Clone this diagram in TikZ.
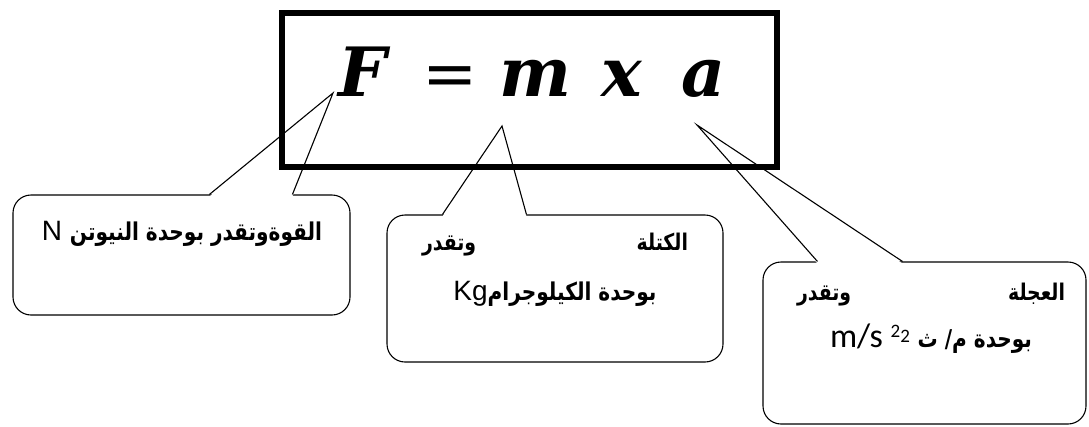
\documentclass[tikz,border=0pt]{standalone}
\usepackage{fontspec}
\setmainfont{Liberation Sans}
\newfontfamily\arabicfont[Script=Arabic, FakeStretch=0.82]{DejaVu Sans}
\newfontfamily\unitfont{Carlito}
\newfontfamily\lawfont{DejaVu Serif}
\TeXXeTstate=1
\usetikzlibrary{calc}
\tikzset{
  lawbox/.style  = {draw, line width=6pt, minimum width=495pt,
                    minimum height=154pt, inner sep=0pt},
  symbol/.style  = {font=\lawfont\bfseries\itshape\fontsize{68}{80}\selectfont,
                    anchor=base west, inner sep=0pt},
  callout/.style = {draw, line width=1.1pt, rounded corners=18pt,
                    fill=white, inner sep=0pt},
  pointer/.style = {line width=1.1pt, line join=miter},
  gap/.style     = {fill=white},
  note/.style    = {anchor=base, inner sep=0pt,
                    font=\fontsize{28}{32}\selectfont},
}
\newcommand{\artext}[1]{{\arabicfont\bfseries\fontsize{24.5}{30}\selectfont #1}}
\newcommand{\arsmall}[1]{{\arabicfont\bfseries\fontsize{23}{28}\selectfont\beginR #1\endR}}

\begin{document}
\begin{tikzpicture}[x=1pt, y=-1pt]
    \useasboundingbox (0,0) rectangle (1089,426);
    % callout boxes
    \node[callout, minimum width=337pt, minimum height=120pt] (forceBox) at (181.5,255) {};
    \node[callout, minimum width=336pt, minimum height=147pt] (massBox) at (555,288.5) {};
    \node[callout, minimum width=323pt, minimum height=162pt] (accelBox) at (924.5,343) {};
    \coordinate (forceL) at ($(forceBox.north west)+(197,0)$);
    \coordinate (forceR) at ($(forceBox.north west)+(280,0)$);
    \coordinate (massL) at ($(massBox.north west)+(56,0)$);
    \coordinate (massR) at ($(massBox.north west)+(140,0)$);
    \coordinate (accelL) at ($(accelBox.north west)+(55,0)$);
    \coordinate (accelR) at ($(accelBox.north west)+(140,0)$);
    \coordinate (forceTip) at (333,93);
    \coordinate (massTip) at (502,126);
    \coordinate (accelTip) at (697,125);
    \fill[gap] ($(forceL)+(0,2)$) -- (forceTip) -- ($(forceR)+(0,2)$) -- cycle;
    \fill[gap] ($(massL)+(0,2)$) -- (massTip) -- ($(massR)+(0,2)$) -- cycle;
    \fill[gap] ($(accelL)+(0,2)$) -- (accelTip) -- ($(accelR)+(0,2)$) -- cycle;
    % the law
    \node[lawbox] (law) at (529.75,90) {};
    \draw[pointer] (forceL) -- (forceTip) -- (forceR);
    \draw[pointer] (massL) -- (massTip) -- (massR);
    \draw[pointer] (accelL) -- (accelTip) -- (accelR);
    \node[symbol] (symF) at (338,96) {F};
    \node[symbol, font=\lawfont\fontsize{66}{80}\selectfont] (symEq) at (422,96) {=};
    \node[symbol] (symM) at (499,96) {m};
    \node[symbol] (symX) at (601,96) {x};
    \node[symbol] (symA) at (681,96) {a};
    % texts
    \node[note] (forceText) at (182,240)
      {\beginR\artext{القوةوتقدر بوحدة النيوتن} \beginL N\endL\endR};
    \node[note] (massHead) at (555,250)
      {\makebox[266pt]{\arsmall{وتقدر}\hfill\arsmall{الكتلة}}};
    \node[note] (massUnit) at (555,300)
      {\beginR\artext{بوحدة الكيلوجرام}\beginL Kg\endL\endR};
    \node[note] (accelHead) at (931,300)
      {\makebox[268pt]{\arsmall{وتقدر}\hfill\arsmall{العجلة}}};
    \node[note] (accelUnit) at (931,347)
      {\beginR\artext{بوحدة م/ ث} \beginL{\unitfont\fontsize{34}{38}\selectfont m/s
       \raisebox{10pt}{\fontsize{19}{19}\selectfont 2}\raisebox{5pt}{\fontsize{19}{19}\selectfont 2}}\endL\endR};
\end{tikzpicture}
\end{document}
